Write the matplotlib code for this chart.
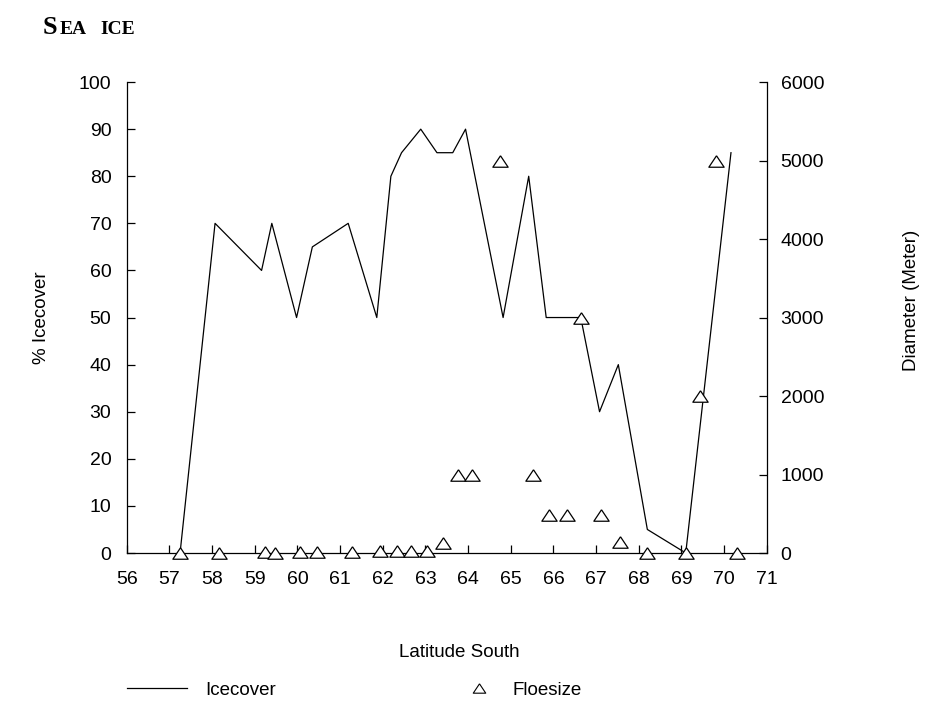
import numpy as np
from matplotlib import pyplot as plt
from matplotlib.lines import Line2D
from matplotlib.ticker import MultipleLocator

plt.rcParams['font.family'] = ['Liberation Sans', 'DejaVu Sans']

# ice cover along the transect (% cover)
ice_lat = [57.25, 58.07, 59.16, 59.40, 59.98, 60.35, 61.19, 61.86, 62.19, 62.44,
           62.89, 63.27, 63.64, 63.94, 64.82, 65.42, 65.83, 66.64, 67.08, 67.52,
           68.20, 69.10, 70.16]
ice_pct = [0, 70, 60, 70, 50, 65, 70, 50, 80, 85,
           90, 85, 85, 90, 50, 80, 50, 50, 30, 40,
           5, 0, 85]

# floe diameter (m)
floe_lat = [57.25, 58.17, 59.24, 59.48, 60.06, 60.45, 61.29, 61.94, 62.33, 62.66,
            63.03, 63.40, 63.76, 64.09, 64.75, 65.53, 65.90, 66.31, 66.64, 67.11,
            67.57, 68.20, 69.10, 69.44, 69.82, 70.29]
floe_m = [0, 0, 10, 0, 10, 10, 10, 20, 20, 20,
          30, 130, 990, 990, 5000, 990, 490, 490, 3000, 490,
          145, 0, 0, 2000, 5000, 0]

lat_ticks = np.arange(56, 72, 1)

# open triangle, a bit wider than tall
tri = [(0, 0.75), (-1, -0.75), (1, -0.75), (0, 0.75)]

fig = plt.figure(figsize=(9.25, 7.05), dpi=100)
ax = fig.add_axes([0.137, 0.2156, 0.692, 0.668])
ax2 = ax.twinx()

ax.plot(ice_lat, ice_pct, color='black', lw=0.9, clip_on=False)
ax2.plot(floe_lat, floe_m, linestyle='none', marker=tri, markersize=11,
         markerfacecolor='white', markeredgecolor='black', markeredgewidth=0.9,
         clip_on=False)

ax.set_xlim(56, 71)
ax.set_ylim(0, 100)
ax2.set_ylim(0, 6000)
ax.set_xticks(lat_ticks)
ax.yaxis.set_major_locator(MultipleLocator(10))
ax2.yaxis.set_major_locator(MultipleLocator(1000))

for a in (ax, ax2):
    a.spines['top'].set_visible(False)
    for s in a.spines.values():
        s.set_linewidth(0.9)
ax.spines['right'].set_visible(False)
ax2.spines['left'].set_visible(False)
ax2.spines['bottom'].set_visible(False)

ax.tick_params(axis='both', direction='in', length=6, width=0.9, labelsize=14, pad=11)
ax.tick_params(axis='x', pad=13)
ax2.tick_params(axis='y', direction='in', length=6, width=0.9, labelsize=14, pad=10)

ax.set_ylabel('% Icecover', fontsize=13.5)
ax.yaxis.set_label_coords(-0.120, 0.5)
ax2.set_ylabel('Diameter (Meter)', fontsize=13.5)
ax2.yaxis.set_label_coords(1.212, 0.537)
ax.set_xlabel('Latitude South', fontsize=13.5)
ax.xaxis.set_label_coords(0.519, -0.193)

# legend: line sample on the left, triangle sample in the middle
ice_handle = Line2D([], [], color='black', lw=0.9)
floe_handle = Line2D([], [], linestyle='none', marker=tri, markersize=9,
                     markerfacecolor='white', markeredgecolor='black', markeredgewidth=0.8)
leg1 = ax.legend([ice_handle], ['Icecover'], frameon=False, fontsize=13.5,
                 loc='center left', bbox_to_anchor=(-0.026, -0.291),
                 handlelength=3.2, handletextpad=1.0)
ax.add_artist(leg1)
ax.legend([floe_handle], ['Floesize'], frameon=False, fontsize=13.5,
          loc='center left', bbox_to_anchor=(0.503, -0.291),
          handlelength=1.4, handletextpad=1.1)

# small-caps heading, set as separate pieces
serif = dict(fontweight='bold', family='Liberation Serif', va='baseline')
fig.text(0.046, 0.952, 'S', fontsize=19, **serif)
fig.text(0.064, 0.952, 'EA', fontsize=14, **serif)
fig.text(0.108, 0.952, 'ICE', fontsize=14, **serif)

fig.savefig('out.png', dpi=100)
